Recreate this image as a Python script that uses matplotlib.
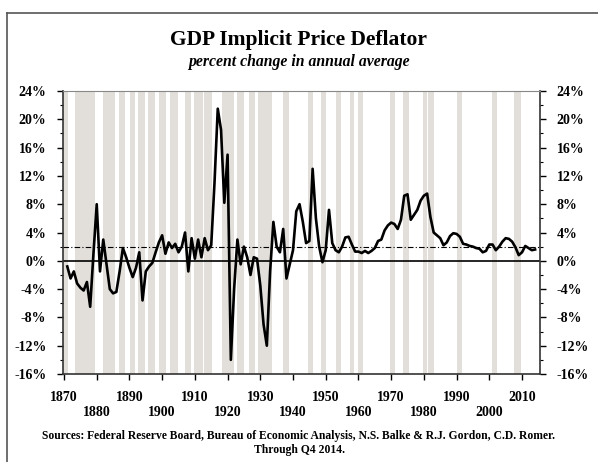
import matplotlib.pyplot as plt
import numpy as np
from matplotlib.lines import Line2D
from matplotlib.ticker import MultipleLocator, FuncFormatter

# annual % change of the GDP implicit price deflator, 1871-2014
years = np.arange(1871, 2015)
deflator = [
    -0.8, -2.5, -1.5, -3.2, -3.8, -4.2, -3.0, -6.5, 1.0, 8.0,
    -1.5, 3.0, -0.5, -4.0, -4.6, -4.4, -1.5, 1.8, 0.5, -1.0,
    -2.3, -1.0, 1.2, -5.6, -1.5, -0.8, -0.3, 1.2, 2.6, 3.6,
    1.0, 2.6, 1.8, 2.4, 1.2, 2.0, 4.0, -1.5, 3.2, 0.3,
    3.0, 0.5, 3.2, 1.5, 2.2, 11.0, 21.5, 18.5, 8.2, 15.0,
    -14.0, -4.0, 3.0, -0.5, 2.0, 0.5, -2.0, 0.5, 0.3, -3.5,
    -9.0, -12.0, -1.5, 5.5, 2.0, 1.2, 4.5, -2.5, -0.5, 1.5,
    7.0, 8.0, 5.5, 2.5, 2.8, 13.0, 6.0, 2.0, -0.2, 1.5,
    7.2, 2.5, 1.5, 1.2, 2.0, 3.3, 3.4, 2.3, 1.3, 1.3,
    1.1, 1.4, 1.1, 1.4, 1.8, 2.8, 3.0, 4.3, 5.0, 5.4,
    5.2, 4.5, 5.8, 9.2, 9.4, 5.8, 6.5, 7.2, 8.5, 9.2,
    9.5, 6.2, 4.0, 3.6, 3.2, 2.2, 2.6, 3.5, 3.9, 3.8,
    3.4, 2.4, 2.3, 2.1, 2.0, 1.8, 1.7, 1.2, 1.4, 2.3,
    2.3, 1.5, 2.0, 2.7, 3.2, 3.1, 2.7, 1.9, 0.8, 1.2,
    2.1, 1.8, 1.5, 1.6,
]

# NBER recessions (start, end) as decimal years
rec_start = [1869.42, 1873.79, 1882.17, 1887.17, 1890.54, 1893.0, 1895.92, 1899.46,
             1902.71, 1907.38, 1910.0, 1913.0, 1918.63, 1920.0, 1923.38, 1926.79,
             1929.63, 1937.38, 1945.08, 1948.88, 1953.54, 1957.63, 1960.29, 1969.92,
             1973.88, 1980.0, 1981.54, 1990.54, 2001.17, 2007.92]
rec_end = [1870.92, 1879.17, 1885.38, 1888.29, 1891.38, 1894.46, 1897.46, 1900.92,
           1904.63, 1908.46, 1912.0, 1914.92, 1919.17, 1921.54, 1924.54, 1927.88,
           1933.17, 1938.46, 1945.79, 1949.79, 1954.38, 1958.29, 1961.13, 1970.88,
           1975.17, 1980.54, 1982.88, 1991.17, 2001.88, 2009.46]

target = 2.0
decades = np.arange(1870, 2011, 10)

serif = ["Liberation Serif", "DejaVu Serif"]
plt.rcParams["font.family"] = serif
plt.rcParams["font.weight"] = "bold"

fig = plt.figure(figsize=(5.98, 4.62), dpi=100)
ax = fig.add_axes([0.1054, 0.1905, 0.7976, 0.6125])

# shaded bands are drawn a little wider than the monthly dates, as in the original
for s, e in zip(rec_start, rec_end):
    ax.axvspan(s - 0.35, e + 0.35, color="#e2dfda", lw=0, zorder=0)

ax.axhline(0, color="black", lw=1.2, zorder=2)
ax.axhline(target, color="black", lw=0.8, ls=(0, (5, 2, 1, 2)), zorder=2)
ax.plot(years, deflator, color="black", lw=1.9, zorder=3)

ax.set_xlim(1869.7, 2015.5)
ax.set_ylim(-16, 24)

ax.yaxis.set_major_locator(MultipleLocator(4))
ax.yaxis.set_minor_locator(MultipleLocator(2))
ax.yaxis.set_major_formatter(FuncFormatter(lambda v, p: f"{v:.0f}%"))
ax.tick_params(axis="y", which="both", left=True, right=True,
               labelleft=True, labelright=True, direction="out")
ax.tick_params(axis="y", which="major", length=4, width=1, pad=8, labelsize=10)
ax.tick_params(axis="y", which="minor", length=2.5, width=0.8)

ax.set_xticks(decades)
ax.set_xticklabels([str(d) if i % 2 == 0 else "\n" + str(d)
                    for i, d in enumerate(decades)])
ax.tick_params(axis="x", direction="out", length=4, width=1, pad=8, labelsize=10)

for side in ["left", "right", "bottom"]:
    ax.spines[side].set_linewidth(1.2)
    ax.spines[side].set_color("#333333")
ax.spines["top"].set_color("#888888")
ax.spines["top"].set_linewidth(0.8)

fig.text(0.5, 0.913, "GDP Implicit Price Deflator", ha="center", va="center",
         fontsize=15.5, fontweight="bold")
fig.text(0.5, 0.866, "percent change in annual average", ha="center", va="center",
         fontsize=11.3, fontweight="bold", style="italic")
fig.text(0.5, 0.041,
         "Sources: Federal Reserve Board, Bureau of Economic Analysis, "
         "N.S. Balke & R.J. Gordon, C.D. Romer.\nThrough Q4 2014.",
         ha="center", va="center", fontsize=8.4, fontweight="bold",
         linespacing=1.15)

# frame around the chart
fig.add_artist(Line2D([7 / 598, 1.0], [1 - 13 / 462, 1 - 13 / 462],
                      transform=fig.transFigure, color="#555555", lw=1.2))
fig.add_artist(Line2D([7 / 598, 7 / 598], [0.0, 1 - 13 / 462],
                      transform=fig.transFigure, color="#555555", lw=1.2))

fig.savefig("out.png", dpi=100, facecolor="white")
